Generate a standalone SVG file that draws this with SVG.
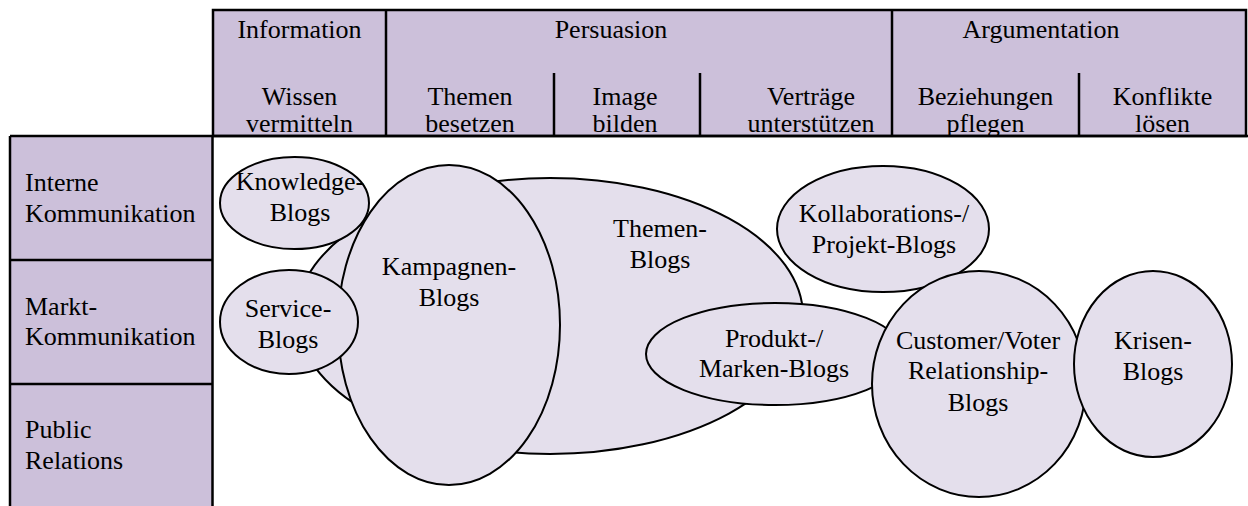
<svg xmlns="http://www.w3.org/2000/svg" width="1248" height="506" viewBox="0 0 1248 506">
  <style>
    .cell { fill: #CCC0DA; }
    .rule { stroke: #000; stroke-width: 2.5; fill: none; }
    .blob { fill: #E4DFEC; stroke: #000; stroke-width: 2; }
    .t { font-family: "Liberation Serif", Tinos, "Times New Roman", "Nimbus Roman", "Noto Serif", "DejaVu Serif", serif; font-size: 26px; fill: #000; }
    .c { text-anchor: middle; }
  </style>
  <rect width="1248" height="506" fill="#fff"/>

  <!-- header: communication goals -->
  <g id="header" class="t">
    <rect class="cell" x="213" y="10" width="1033" height="126"/>
    <rect class="rule" x="213" y="10" width="1033" height="126"/>
    <line class="rule" x1="386" y1="10" x2="386" y2="136"/>
    <line class="rule" x1="892" y1="10" x2="892" y2="136"/>
    <line class="rule" x1="554" y1="73" x2="554" y2="136"/>
    <line class="rule" x1="700" y1="73" x2="700" y2="136"/>
    <line class="rule" x1="1079" y1="73" x2="1079" y2="136"/>
    <text class="c" x="299.5" y="38">Information</text>
    <text class="c" x="611" y="38">Persuasion</text>
    <text class="c" x="1041" y="38">Argumentation</text>
    <text class="c" x="299.5" y="105">Wissen</text>
    <text class="c" x="299.5" y="132">vermitteln</text>
    <text class="c" x="470" y="105">Themen</text>
    <text class="c" x="470" y="132">besetzen</text>
    <text class="c" x="625" y="105">Image</text>
    <text class="c" x="625" y="132">bilden</text>
    <text class="c" x="811" y="105">Verträge</text>
    <text class="c" x="811" y="132">unterstützen</text>
    <text class="c" x="985.5" y="105">Beziehungen</text>
    <text class="c" x="985.5" y="132">pflegen</text>
    <text class="c" x="1162.5" y="105">Konflikte</text>
    <text class="c" x="1162.5" y="132">lösen</text>
  </g>

  <!-- left column: communication fields -->
  <g id="fields" class="t">
    <rect class="cell" x="10" y="136" width="202" height="380"/>
    <line class="rule" x1="10" y1="136" x2="1248" y2="136"/>
    <line class="rule" x1="10" y1="136" x2="10" y2="506"/>
    <line class="rule" x1="212.5" y1="136" x2="212.5" y2="506"/>
    <line class="rule" x1="10" y1="260" x2="212.5" y2="260"/>
    <line class="rule" x1="10" y1="384" x2="212.5" y2="384"/>
    <text x="25" y="191">Interne</text>
    <text x="25" y="222">Kommunikation</text>
    <text x="25" y="315">Markt-</text>
    <text x="25" y="345">Kommunikation</text>
    <text x="25" y="438">Public</text>
    <text x="25" y="469">Relations</text>
  </g>

  <!-- blog types -->
  <g id="themen-blogs" class="t">
    <ellipse class="blob" cx="550" cy="316" rx="253" ry="138"/>
    <text class="c" x="660" y="237">Themen-</text>
    <text class="c" x="660" y="268">Blogs</text>
  </g>
  <g id="kampagnen-blogs" class="t">
    <ellipse class="blob" cx="449" cy="325" rx="111" ry="160"/>
    <text class="c" x="449" y="275">Kampagnen-</text>
    <text class="c" x="449" y="306">Blogs</text>
  </g>
  <g id="knowledge-blogs" class="t">
    <ellipse class="blob" cx="294.5" cy="203" rx="74.5" ry="46"/>
    <text class="c" x="300" y="190">Knowledge-</text>
    <text class="c" x="300" y="221">Blogs</text>
  </g>
  <g id="service-blogs" class="t">
    <ellipse class="blob" cx="289" cy="322" rx="69" ry="52"/>
    <text class="c" x="288" y="317">Service-</text>
    <text class="c" x="288" y="348">Blogs</text>
  </g>
  <g id="produkt-blogs" class="t">
    <ellipse class="blob" cx="775" cy="354" rx="129" ry="51"/>
    <text class="c" x="774" y="347">Produkt-/</text>
    <text class="c" x="774" y="377">Marken-Blogs</text>
  </g>
  <g id="kollaborations-blogs" class="t">
    <ellipse class="blob" cx="883" cy="229" rx="106" ry="63"/>
    <text class="c" x="884" y="222">Kollaborations-/</text>
    <text class="c" x="884" y="253">Projekt-Blogs</text>
  </g>
  <g id="customer-blogs" class="t">
    <ellipse class="blob" cx="979" cy="384" rx="107" ry="113"/>
    <text class="c" x="978" y="349">Customer/Voter</text>
    <text class="c" x="978" y="379">Relationship-</text>
    <text class="c" x="978" y="411">Blogs</text>
  </g>
  <g id="krisen-blogs" class="t">
    <ellipse class="blob" cx="1153" cy="364" rx="79" ry="93"/>
    <text class="c" x="1153" y="349">Krisen-</text>
    <text class="c" x="1153" y="380">Blogs</text>
  </g>

  <!-- no connectors in this chart -->
  <g id="connectors"/>
</svg>
